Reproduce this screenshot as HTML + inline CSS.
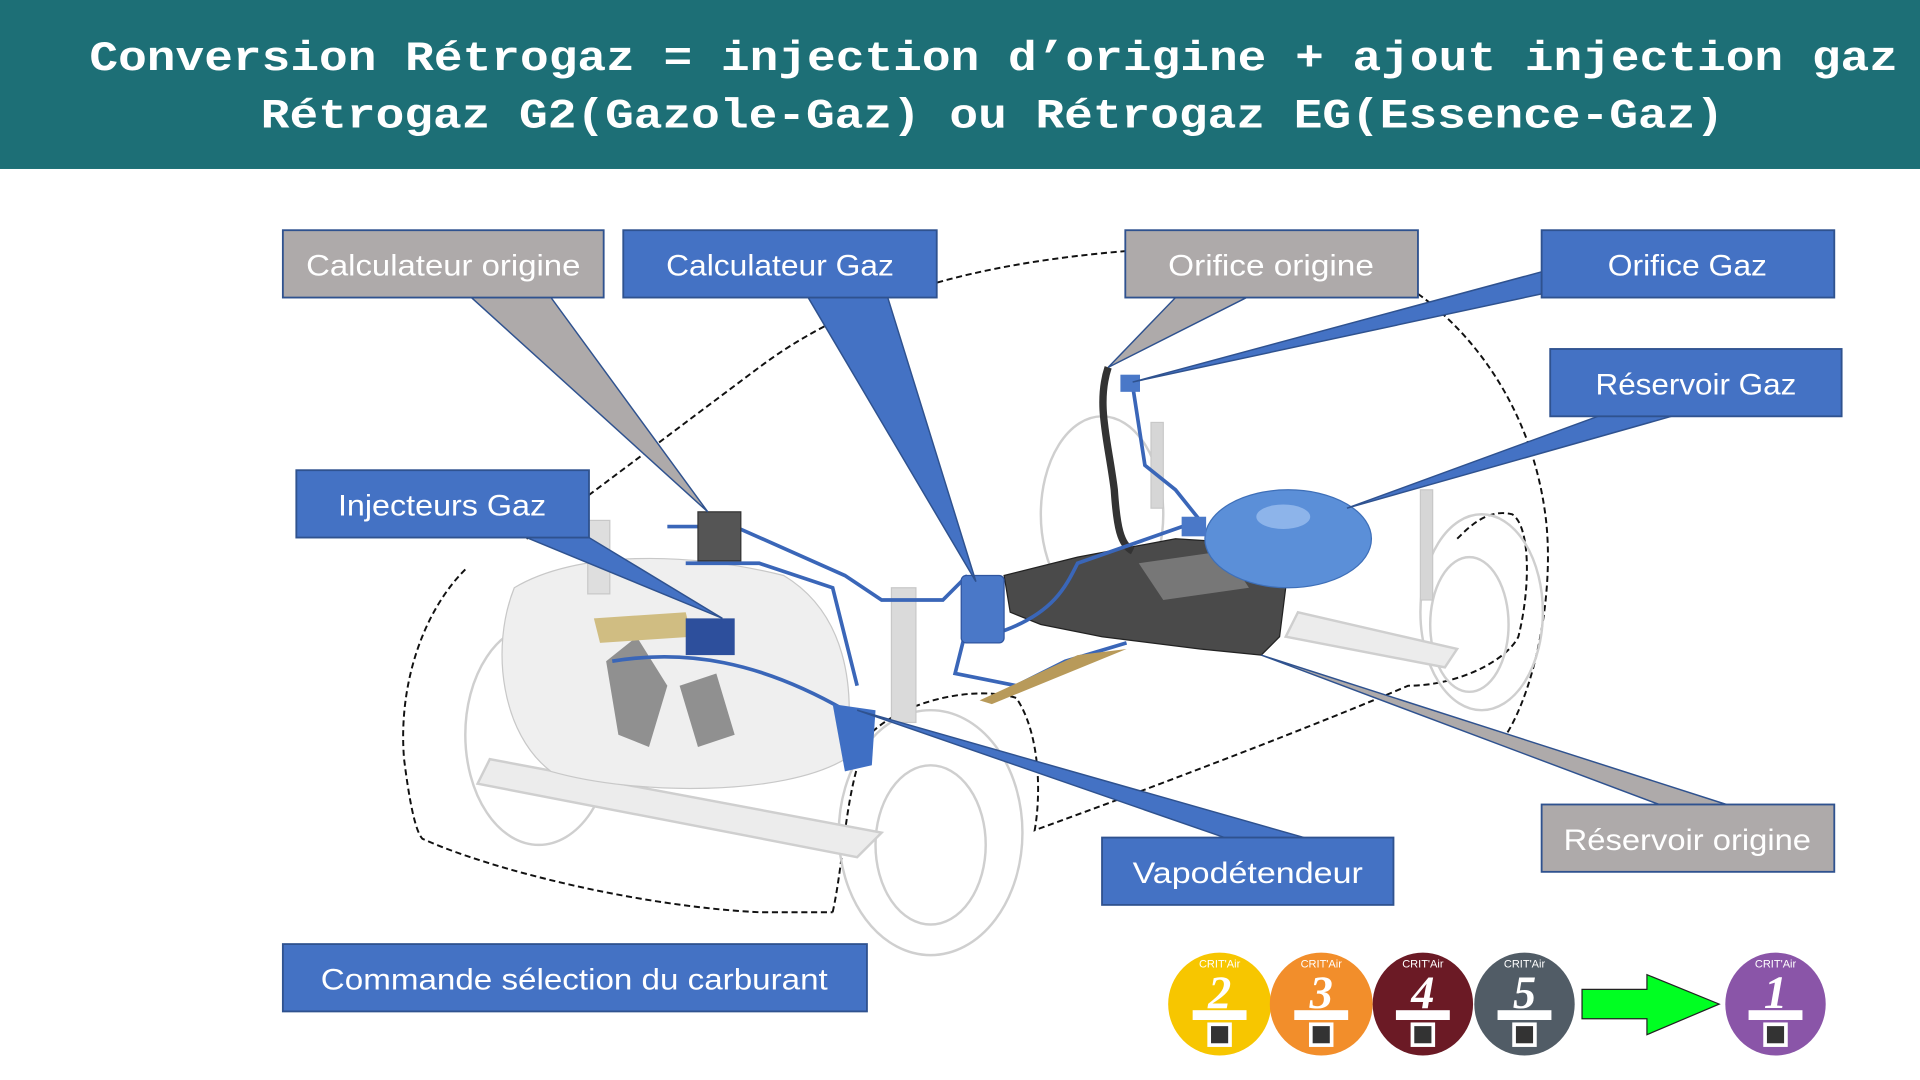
<!DOCTYPE html>
<html><head><meta charset="utf-8"><style>
html,body{margin:0;padding:0;background:#fff;width:1920px;height:1080px;overflow:hidden}
svg{display:block}
</style></head><body>
<svg width="1920" height="1080" viewBox="0 0 1568 882" xmlns="http://www.w3.org/2000/svg">
<rect x="0" y="0" width="1568" height="138" fill="#1d6f76"/>
<g font-family="Liberation Mono, monospace" font-weight="bold" font-size="34" fill="#fff">
<text x="73" y="57" textLength="1477" lengthAdjust="spacingAndGlyphs">Conversion Rétrogaz = injection d’origine + ajout injection gaz</text>
<text x="213" y="104" textLength="1195" lengthAdjust="spacingAndGlyphs">Rétrogaz G2(Gazole-Gaz) ou Rétrogaz EG(Essence-Gaz)</text>
</g>

<g fill="none" stroke="#111" stroke-width="1.6" stroke-dasharray="5,3">
<path d="M920,205 C800,215 700,240 620,300 C560,345 500,390 460,420 L430,440"/>
<path d="M1158,240 C1200,270 1250,330 1262,420 C1270,480 1255,560 1230,600"/>
<path d="M380,465 C345,500 325,560 330,620 C335,660 340,680 345,685 C400,710 520,740 620,745 L680,745"/>
<path d="M680,745 C690,700 690,640 710,600 C740,570 800,560 830,570 C850,600 850,650 845,678 C950,640 1080,590 1150,560 C1190,560 1230,540 1240,520 C1250,480 1250,430 1235,420 C1215,415 1200,430 1190,440"/>
</g>

<g fill="none" stroke="#cfcfcf" stroke-width="2">
<ellipse cx="440" cy="600" rx="60" ry="90"/>
<ellipse cx="760" cy="680" rx="75" ry="100"/>
<ellipse cx="760" cy="690" rx="45" ry="65"/>
<ellipse cx="900" cy="420" rx="50" ry="80"/>
<ellipse cx="1210" cy="500" rx="50" ry="80"/>
<ellipse cx="1200" cy="510" rx="32" ry="55"/>
<path d="M390,640 L700,700 L720,680 L400,620 Z" fill="#ececec"/>
<path d="M1050,520 L1180,545 L1190,530 L1060,500 Z" fill="#ececec"/>
</g>
<g fill="#efefef" stroke="#c8c8c8" stroke-width="1">
<path d="M420,480 C470,450 560,450 640,470 C690,500 700,560 690,620 C640,650 520,650 450,630 C410,600 400,530 420,480 Z"/>
<rect x="728" y="480" width="20" height="110" fill="#dadada"/>
<rect x="480" y="425" width="18" height="60" fill="#dedede"/>
<rect x="940" y="345" width="10" height="70" fill="#d6d6d6"/>
<rect x="1160" y="400" width="10" height="90" fill="#d6d6d6"/>
</g>
<g fill="#444" opacity="0.55">
<path d="M495,540 L520,520 L545,560 L530,610 L505,600 Z"/>
<path d="M555,560 L585,550 L600,600 L570,610 Z"/>
<path d="M485,505 L560,500 L565,520 L490,525 Z" fill="#b8962a"/>
</g>
<path d="M820,470 L880,455 L960,440 L1040,445 L1050,480 L1045,520 L1030,535 L980,530 L900,520 L850,510 L825,500 Z" fill="#4a4a4a" stroke="#222"/>
<path d="M930,460 L1000,450 L1020,480 L950,490 Z" fill="#777"/>
<path d="M905,300 C895,330 905,360 910,400 C912,430 915,445 925,450" fill="none" stroke="#333" stroke-width="6"/>
<ellipse cx="1052" cy="440" rx="68" ry="40" fill="#5b8fd8" stroke="#3e6fb8"/>
<ellipse cx="1048" cy="422" rx="22" ry="10" fill="#8db4ea"/>
<g fill="none" stroke="#3a66b8" stroke-width="3">
<path d="M545,430 L600,430 L690,470 L720,490 L770,490 L790,470"/>
<path d="M820,515 C860,500 870,480 880,460 L980,425"/>
<path d="M560,460 L620,460 L680,480 L700,560"/>
<path d="M790,510 L780,550 L830,560 L870,540 L920,525"/>
<path d="M925,315 L935,380 L960,400 L980,425"/>
<path d="M500,540 C560,530 620,540 690,580"/>
</g>
<rect x="785" y="470" width="35" height="55" rx="4" fill="#4a78c8" stroke="#2f55a0"/>
<rect x="570" y="418" width="35" height="40" fill="#555" stroke="#333"/>
<path d="M680,575 L715,580 L712,625 L690,630 Z" fill="#3f6fc4"/>
<rect x="560" y="505" width="40" height="30" fill="#2d4f9c"/>
<rect x="915" y="306" width="16" height="14" fill="#4a78c8"/>
<rect x="965" y="422" width="20" height="16" fill="#4a78c8"/>
<path d="M880,535 L920,530 L810,575 L800,572 Z" fill="#b89a5a"/>

<g stroke="#2f528f" stroke-width="1.2">
<polygon points="385,243 450,243 578,418" fill="#aeaaaa"/>
<polygon points="660,243 725,243 797,475" fill="#4472c4"/>
<polygon points="960,243 1018,243 905,300" fill="#aeaaaa"/>
<polygon points="1259,222 1259,240 925,312" fill="#4472c4"/>
<polygon points="1305,340 1365,340 1100,415" fill="#4472c4"/>
<polygon points="430,439 481,439 590,505" fill="#4472c4"/>
<polygon points="1000,684 1065,684 700,580" fill="#4472c4"/>
<polygon points="1355,657 1410,657 1030,535" fill="#aeaaaa"/>
</g>

<g stroke="#2f528f" stroke-width="1.5">
<rect x="231" y="188" width="262" height="55" fill="#aeaaaa"/>
<rect x="509" y="188" width="256" height="55" fill="#4472c4"/>
<rect x="919" y="188" width="239" height="55" fill="#aeaaaa"/>
<rect x="1259" y="188" width="239" height="55" fill="#4472c4"/>
<rect x="1266" y="285" width="238" height="55" fill="#4472c4"/>
<rect x="242" y="384" width="239" height="55" fill="#4472c4"/>
<rect x="900" y="684" width="238" height="55" fill="#4472c4"/>
<rect x="1259" y="657" width="239" height="55" fill="#aeaaaa"/>
<rect x="231" y="771" width="477" height="55" fill="#4472c4"/>
</g>
<g font-family="Liberation Sans, sans-serif" font-size="24" fill="#fff" text-anchor="middle">
<text x="362" y="225" textLength="224" lengthAdjust="spacingAndGlyphs">Calculateur origine</text>
<text x="637" y="225" textLength="186" lengthAdjust="spacingAndGlyphs">Calculateur Gaz</text>
<text x="1038" y="225" textLength="168" lengthAdjust="spacingAndGlyphs">Orifice origine</text>
<text x="1378" y="225" textLength="130" lengthAdjust="spacingAndGlyphs">Orifice Gaz</text>
<text x="1385" y="322" textLength="164" lengthAdjust="spacingAndGlyphs">Réservoir Gaz</text>
<text x="361" y="421" textLength="170" lengthAdjust="spacingAndGlyphs">Injecteurs Gaz</text>
<text x="1019" y="721" textLength="188" lengthAdjust="spacingAndGlyphs">Vapodétendeur</text>
<text x="1378" y="694" textLength="202" lengthAdjust="spacingAndGlyphs">Réservoir origine</text>
<text x="469" y="808" textLength="414" lengthAdjust="spacingAndGlyphs">Commande sélection du carburant</text>
</g>

<g font-family="Liberation Serif, serif" text-anchor="middle">
<g transform="translate(996,820)"><ellipse rx="42" ry="42" fill="#f7c600"/><text y="-30" font-size="9" fill="#fff" font-family="Liberation Sans">CRIT'Air</text><text y="3" font-size="38" font-weight="bold" font-style="italic" fill="#fff">2</text><rect x="-22" y="5" width="44" height="8" fill="#fff"/><rect x="-10" y="15" width="20" height="20" fill="#fff"/><rect x="-7" y="18" width="14" height="14" fill="#333"/></g>
<g transform="translate(1079,820)"><ellipse rx="42" ry="42" fill="#f28e2b"/><text y="-30" font-size="9" fill="#fff" font-family="Liberation Sans">CRIT'Air</text><text y="3" font-size="38" font-weight="bold" font-style="italic" fill="#fff">3</text><rect x="-22" y="5" width="44" height="8" fill="#fff"/><rect x="-10" y="15" width="20" height="20" fill="#fff"/><rect x="-7" y="18" width="14" height="14" fill="#333"/></g>
<g transform="translate(1162,820)"><ellipse rx="41" ry="42" fill="#6b1a25"/><text y="-30" font-size="9" fill="#fff" font-family="Liberation Sans">CRIT'Air</text><text y="3" font-size="38" font-weight="bold" font-style="italic" fill="#fff">4</text><rect x="-22" y="5" width="44" height="8" fill="#fff"/><rect x="-10" y="15" width="20" height="20" fill="#fff"/><rect x="-7" y="18" width="14" height="14" fill="#333"/></g>
<g transform="translate(1245,820)"><ellipse rx="41" ry="42" fill="#515c66"/><text y="-30" font-size="9" fill="#fff" font-family="Liberation Sans">CRIT'Air</text><text y="3" font-size="38" font-weight="bold" font-style="italic" fill="#fff">5</text><rect x="-22" y="5" width="44" height="8" fill="#fff"/><rect x="-10" y="15" width="20" height="20" fill="#fff"/><rect x="-7" y="18" width="14" height="14" fill="#333"/></g>
<g transform="translate(1450,820)"><ellipse rx="41" ry="42" fill="#8a55a8"/><text y="-30" font-size="9" fill="#fff" font-family="Liberation Sans">CRIT'Air</text><text y="3" font-size="38" font-weight="bold" font-style="italic" fill="#fff">1</text><rect x="-22" y="5" width="44" height="8" fill="#fff"/><rect x="-10" y="15" width="20" height="20" fill="#fff"/><rect x="-7" y="18" width="14" height="14" fill="#333"/></g>
</g>
<polygon points="1292,808 1345,808 1345,796 1404,820 1345,845 1345,832 1292,832" fill="#00ff22" stroke="#222" stroke-width="1"/>
</svg>
</body></html>
